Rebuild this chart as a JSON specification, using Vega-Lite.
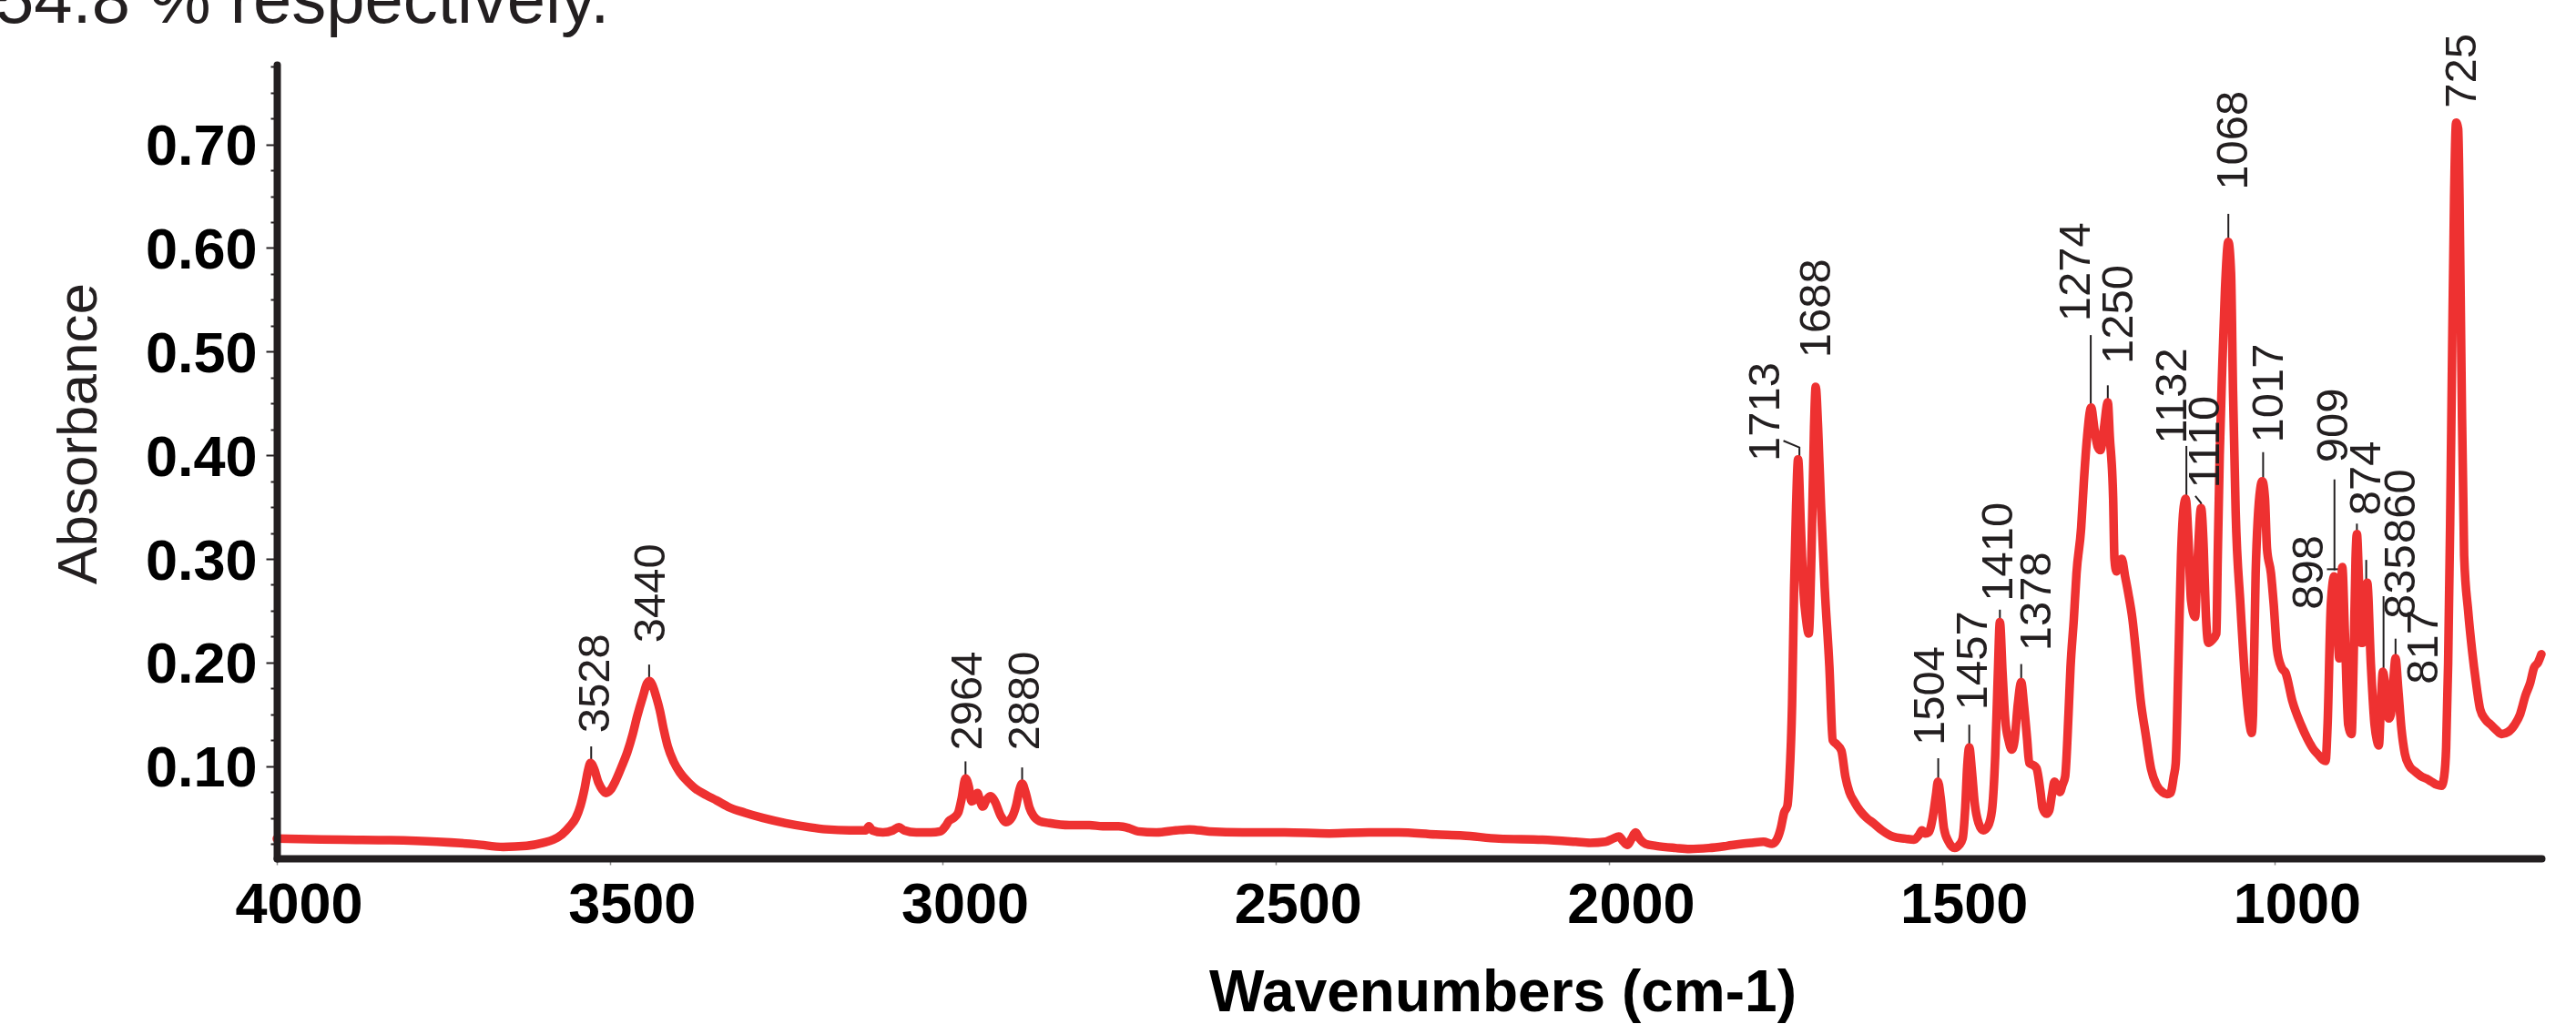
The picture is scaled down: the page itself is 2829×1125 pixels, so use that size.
{
  "$schema": "https://vega.github.io/schema/vega-lite/v6.json",
  "width": 2487,
  "height": 872,
  "autosize": {"type": "none"},
  "padding": {"left": 304, "top": 71, "right": 38, "bottom": 182},
  "background": "white",
  "title": {
    "text": "54.8 % respectively.",
    "anchor": "start",
    "frame": "group",
    "orient": "top",
    "dx": -309,
    "dy": 64,
    "offset": 0,
    "baseline": "alphabetic",
    "font": "Liberation Sans",
    "fontSize": 76,
    "fontWeight": "normal",
    "color": "#231f20"
  },
  "datasets": {
    "spectrum": [
      {"wn":4000,"A":0.030},{"wn":3950,"A":0.0295},{"wn":3900,"A":0.029},{"wn":3830,"A":0.0285},{"wn":3760,"A":0.027},{"wn":3700,"A":0.0245},{"wn":3660,"A":0.022},{"wn":3625,"A":0.023},{"wn":3600,"A":0.026},{"wn":3585,"A":0.029},{"wn":3572,"A":0.034},{"wn":3560,"A":0.042},{"wn":3551,"A":0.050},{"wn":3544,"A":0.062},{"wn":3538,"A":0.078},{"wn":3533,"A":0.095},{"wn":3529,"A":0.103},{"wn":3524,"A":0.098},{"wn":3517,"A":0.084},{"wn":3511,"A":0.077},{"wn":3506,"A":0.074},{"wn":3499,"A":0.077},{"wn":3492,"A":0.085},{"wn":3482,"A":0.100},{"wn":3474,"A":0.113},{"wn":3466,"A":0.130},{"wn":3459,"A":0.148},{"wn":3450,"A":0.168},{"wn":3444,"A":0.180},{"wn":3440,"A":0.182},{"wn":3436,"A":0.178},{"wn":3430,"A":0.166},{"wn":3425,"A":0.154},{"wn":3419,"A":0.135},{"wn":3413,"A":0.119},{"wn":3404,"A":0.104},{"wn":3395,"A":0.094},{"wn":3383,"A":0.085},{"wn":3371,"A":0.078},{"wn":3355,"A":0.072},{"wn":3340,"A":0.067},{"wn":3320,"A":0.060},{"wn":3297,"A":0.055},{"wn":3270,"A":0.050},{"wn":3236,"A":0.045},{"wn":3200,"A":0.041},{"wn":3175,"A":0.039},{"wn":3140,"A":0.038},{"wn":3116,"A":0.038},{"wn":3111,"A":0.042},{"wn":3106,"A":0.038},{"wn":3090,"A":0.036},{"wn":3075,"A":0.038},{"wn":3066,"A":0.041},{"wn":3058,"A":0.038},{"wn":3040,"A":0.036},{"wn":3018,"A":0.036},{"wn":3004,"A":0.037},{"wn":2996,"A":0.042},{"wn":2991,"A":0.047},{"wn":2984,"A":0.050},{"wn":2977,"A":0.055},{"wn":2972,"A":0.068},{"wn":2966,"A":0.088},{"wn":2961,"A":0.080},{"wn":2957,"A":0.066},{"wn":2952,"A":0.068},{"wn":2948,"A":0.074},{"wn":2944,"A":0.066},{"wn":2940,"A":0.061},{"wn":2934,"A":0.068},{"wn":2928,"A":0.071},{"wn":2922,"A":0.066},{"wn":2913,"A":0.052},{"wn":2905,"A":0.046},{"wn":2897,"A":0.050},{"wn":2890,"A":0.062},{"wn":2885,"A":0.077},{"wn":2881,"A":0.083},{"wn":2876,"A":0.075},{"wn":2870,"A":0.060},{"wn":2864,"A":0.052},{"wn":2855,"A":0.047},{"wn":2840,"A":0.045},{"wn":2810,"A":0.043},{"wn":2780,"A":0.043},{"wn":2760,"A":0.042},{"wn":2736,"A":0.042},{"wn":2720,"A":0.040},{"wn":2707,"A":0.037},{"wn":2680,"A":0.036},{"wn":2650,"A":0.038},{"wn":2630,"A":0.039},{"wn":2600,"A":0.037},{"wn":2550,"A":0.036},{"wn":2487,"A":0.036},{"wn":2420,"A":0.035},{"wn":2360,"A":0.036},{"wn":2316,"A":0.036},{"wn":2260,"A":0.034},{"wn":2219,"A":0.033},{"wn":2165,"A":0.030},{"wn":2100,"A":0.029},{"wn":2050,"A":0.027},{"wn":2028,"A":0.026},{"wn":2005,"A":0.027},{"wn":1994,"A":0.030},{"wn":1985,"A":0.032},{"wn":1978,"A":0.027},{"wn":1972,"A":0.024},{"wn":1966,"A":0.030},{"wn":1960,"A":0.036},{"wn":1954,"A":0.030},{"wn":1945,"A":0.025},{"wn":1929,"A":0.023},{"wn":1900,"A":0.021},{"wn":1879,"A":0.020},{"wn":1850,"A":0.021},{"wn":1823,"A":0.023},{"wn":1800,"A":0.025},{"wn":1785,"A":0.026},{"wn":1768,"A":0.027},{"wn":1755,"A":0.025},{"wn":1748,"A":0.029},{"wn":1742,"A":0.040},{"wn":1737,"A":0.055},{"wn":1732,"A":0.062},{"wn":1729,"A":0.088},{"wn":1725,"A":0.160},{"wn":1722,"A":0.272},{"wn":1719,"A":0.350},{"wn":1716,"A":0.396},{"wn":1712,"A":0.334},{"wn":1708,"A":0.270},{"wn":1704,"A":0.242},{"wn":1700,"A":0.228},{"wn":1696,"A":0.303},{"wn":1692,"A":0.427},{"wn":1689.5,"A":0.466},{"wn":1686,"A":0.427},{"wn":1681.5,"A":0.350},{"wn":1676,"A":0.272},{"wn":1669,"A":0.196},{"wn":1664,"A":0.125},{"wn":1658,"A":0.121},{"wn":1651,"A":0.115},{"wn":1645,"A":0.090},{"wn":1639,"A":0.075},{"wn":1631,"A":0.065},{"wn":1623,"A":0.057},{"wn":1613,"A":0.050},{"wn":1603,"A":0.045},{"wn":1590,"A":0.038},{"wn":1574,"A":0.032},{"wn":1555,"A":0.030},{"wn":1542,"A":0.029},{"wn":1534,"A":0.034},{"wn":1530,"A":0.038},{"wn":1525,"A":0.035},{"wn":1520,"A":0.036},{"wn":1514,"A":0.050},{"wn":1509,"A":0.072},{"wn":1506,"A":0.085},{"wn":1502,"A":0.070},{"wn":1497,"A":0.040},{"wn":1490,"A":0.027},{"wn":1481,"A":0.021},{"wn":1474,"A":0.024},{"wn":1469,"A":0.030},{"wn":1465,"A":0.060},{"wn":1462,"A":0.100},{"wn":1459,"A":0.118},{"wn":1455,"A":0.095},{"wn":1451,"A":0.065},{"wn":1445,"A":0.045},{"wn":1438,"A":0.038},{"wn":1431,"A":0.042},{"wn":1425,"A":0.057},{"wn":1420,"A":0.110},{"wn":1416,"A":0.190},{"wn":1413,"A":0.239},{"wn":1409,"A":0.190},{"wn":1405,"A":0.145},{"wn":1400,"A":0.125},{"wn":1395,"A":0.116},{"wn":1391,"A":0.125},{"wn":1386,"A":0.160},{"wn":1381,"A":0.181},{"wn":1377,"A":0.160},{"wn":1372,"A":0.125},{"wn":1369,"A":0.103},{"wn":1363,"A":0.101},{"wn":1358,"A":0.098},{"wn":1352,"A":0.075},{"wn":1349,"A":0.060},{"wn":1343,"A":0.054},{"wn":1339,"A":0.057},{"wn":1335,"A":0.072},{"wn":1331,"A":0.085},{"wn":1327,"A":0.080},{"wn":1323,"A":0.075},{"wn":1319,"A":0.082},{"wn":1315,"A":0.090},{"wn":1310,"A":0.150},{"wn":1307,"A":0.195},{"wn":1302,"A":0.242},{"wn":1298,"A":0.286},{"wn":1291,"A":0.330},{"wn":1287,"A":0.374},{"wn":1282,"A":0.418},{"wn":1276,"A":0.446},{"wn":1271,"A":0.425},{"wn":1266,"A":0.408},{"wn":1262,"A":0.405},{"wn":1257,"A":0.425},{"wn":1251,"A":0.451},{"wn":1248,"A":0.418},{"wn":1243,"A":0.359},{"wn":1241,"A":0.300},{"wn":1238,"A":0.288},{"wn":1234,"A":0.294},{"wn":1230,"A":0.300},{"wn":1225,"A":0.283},{"wn":1220,"A":0.266},{"wn":1214,"A":0.242},{"wn":1208,"A":0.205},{"wn":1202,"A":0.165},{"wn":1194,"A":0.130},{"wn":1186,"A":0.097},{"wn":1178,"A":0.082},{"wn":1169,"A":0.075},{"wn":1162,"A":0.073},{"wn":1157,"A":0.074},{"wn":1152,"A":0.090},{"wn":1149,"A":0.103},{"wn":1145,"A":0.200},{"wn":1141,"A":0.303},{"wn":1137,"A":0.350},{"wn":1134,"A":0.358},{"wn":1130,"A":0.320},{"wn":1126,"A":0.260},{"wn":1120,"A":0.244},{"wn":1116,"A":0.300},{"wn":1111,"A":0.349},{"wn":1107,"A":0.310},{"wn":1104,"A":0.250},{"wn":1100,"A":0.219},{"wn":1094,"A":0.222},{"wn":1088,"A":0.228},{"wn":1086,"A":0.300},{"wn":1083,"A":0.400},{"wn":1079,"A":0.488},{"wn":1075,"A":0.560},{"wn":1070,"A":0.606},{"wn":1066,"A":0.576},{"wn":1063,"A":0.462},{"wn":1059,"A":0.345},{"wn":1052,"A":0.257},{"wn":1043,"A":0.169},{"wn":1038,"A":0.140},{"wn":1035,"A":0.132},{"wn":1033,"A":0.150},{"wn":1029,"A":0.286},{"wn":1022,"A":0.368},{"wn":1019,"A":0.375},{"wn":1015,"A":0.358},{"wn":1012,"A":0.310},{"wn":1006,"A":0.286},{"wn":1002,"A":0.257},{"wn":997,"A":0.213},{"wn":990,"A":0.195},{"wn":984,"A":0.190},{"wn":974,"A":0.163},{"wn":961,"A":0.140},{"wn":951,"A":0.126},{"wn":943,"A":0.117},{"wn":935,"A":0.111},{"wn":928,"A":0.106},{"wn":924,"A":0.105},{"wn":921,"A":0.140},{"wn":916,"A":0.257},{"wn":911,"A":0.283},{"wn":906,"A":0.230},{"wn":903.5,"A":0.204},{"wn":901,"A":0.260},{"wn":899,"A":0.292},{"wn":895,"A":0.228},{"wn":890,"A":0.140},{"wn":885,"A":0.131},{"wn":882,"A":0.200},{"wn":879,"A":0.300},{"wn":877,"A":0.324},{"wn":874,"A":0.280},{"wn":871,"A":0.219},{"wn":868,"A":0.219},{"wn":864,"A":0.260},{"wn":861.5,"A":0.277},{"wn":856,"A":0.198},{"wn":850.5,"A":0.140},{"wn":847,"A":0.125},{"wn":844,"A":0.120},{"wn":841,"A":0.160},{"wn":838,"A":0.191},{"wn":834,"A":0.175},{"wn":829,"A":0.146},{"wn":826,"A":0.150},{"wn":822,"A":0.185},{"wn":819,"A":0.204},{"wn":815,"A":0.175},{"wn":810,"A":0.135},{"wn":805,"A":0.112},{"wn":798,"A":0.100},{"wn":790,"A":0.095},{"wn":780,"A":0.090},{"wn":773,"A":0.088},{"wn":765,"A":0.085},{"wn":757,"A":0.082},{"wn":750,"A":0.081},{"wn":746,"A":0.090},{"wn":743,"A":0.118},{"wn":740,"A":0.200},{"wn":737,"A":0.334},{"wn":734,"A":0.500},{"wn":731,"A":0.650},{"wn":728,"A":0.721},{"wn":725,"A":0.715},{"wn":723,"A":0.650},{"wn":720,"A":0.480},{"wn":716,"A":0.303},{"wn":710,"A":0.250},{"wn":704,"A":0.211},{"wn":698,"A":0.180},{"wn":692,"A":0.155},{"wn":684,"A":0.145},{"wn":676,"A":0.140},{"wn":668,"A":0.135},{"wn":660,"A":0.131},{"wn":650,"A":0.133},{"wn":640,"A":0.140},{"wn":632,"A":0.150},{"wn":624,"A":0.168},{"wn":617,"A":0.180},{"wn":611,"A":0.195},{"wn":605,"A":0.200},{"wn":600,"A":0.208}
    ],
    "labels": [
      {"label":"3528","wn":3522,"A":0.132},
      {"label":"3440","wn":3438,"A":0.219},
      {"label":"2964","wn":2962,"A":0.115},
      {"label":"2880","wn":2876,"A":0.115},
      {"label":"1713","wn":1765,"A":0.394},
      {"label":"1688","wn":1688,"A":0.494},
      {"label":"1504","wn":1518,"A":0.120},
      {"label":"1457","wn":1453,"A":0.154},
      {"label":"1410","wn":1415,"A":0.259},
      {"label":"1378","wn":1357,"A":0.211},
      {"label":"1274","wn":1299,"A":0.529},
      {"label":"1250","wn":1234,"A":0.488},
      {"label":"1132","wn":1153,"A":0.411},
      {"label":"1110","wn":1105,"A":0.368},
      {"label":"1068","wn":1062,"A":0.656},
      {"label":"1017","wn":1009,"A":0.412},
      {"label":"909","wn":912,"A":0.393},
      {"label":"898","wn":949,"A":0.251},
      {"label":"874","wn":862,"A":0.342},
      {"label":"860","wn":811,"A":0.315},
      {"label":"835","wn":811,"A":0.242},
      {"label":"817","wn":777,"A":0.179},
      {"label":"725","wn":719,"A":0.735}
    ],
    "leaders": [
      {"label":"3528","seq":0,"wn":3528,"A":0.105},{"label":"3528","seq":1,"wn":3528,"A":0.119},
      {"label":"3440","seq":0,"wn":3441,"A":0.185},{"label":"3440","seq":1,"wn":3441,"A":0.198},
      {"label":"2964","seq":0,"wn":2966,"A":0.090},{"label":"2964","seq":1,"wn":2966,"A":0.1046},
      {"label":"2880","seq":0,"wn":2881,"A":0.0855},{"label":"2880","seq":1,"wn":2881,"A":0.0987},
      {"label":"1713","seq":0,"wn":1714,"A":0.399},{"label":"1713","seq":1,"wn":1714,"A":0.4075},{"label":"1713","seq":2,"wn":1738,"A":0.414},
      {"label":"1504","seq":0,"wn":1505.6,"A":0.0876},{"label":"1504","seq":1,"wn":1505.6,"A":0.1076},
      {"label":"1457","seq":0,"wn":1459,"A":0.1215},{"label":"1457","seq":1,"wn":1459,"A":0.140},
      {"label":"1410","seq":0,"wn":1413,"A":0.240},{"label":"1410","seq":1,"wn":1413,"A":0.251},
      {"label":"1378","seq":0,"wn":1381,"A":0.1833},{"label":"1378","seq":1,"wn":1381,"A":0.1985},
      {"label":"1274","seq":0,"wn":1276.6,"A":0.447},{"label":"1274","seq":1,"wn":1276.6,"A":0.516},
      {"label":"1250","seq":0,"wn":1251,"A":0.4529},{"label":"1250","seq":1,"wn":1251,"A":0.4675},
      {"label":"1132","seq":0,"wn":1133,"A":0.359},{"label":"1132","seq":1,"wn":1133,"A":0.409},
      {"label":"1110","seq":0,"wn":1111,"A":0.350},{"label":"1110","seq":1,"wn":1111,"A":0.354},{"label":"1110","seq":2,"wn":1119.6,"A":0.3607},
      {"label":"1068","seq":0,"wn":1070,"A":0.608},{"label":"1068","seq":1,"wn":1070,"A":0.633},
      {"label":"1017","seq":0,"wn":1017.8,"A":0.378},{"label":"1017","seq":1,"wn":1017.8,"A":0.403},
      {"label":"909","seq":0,"wn":910.7,"A":0.289},{"label":"909","seq":1,"wn":910.7,"A":0.3767},
      {"label":"898","seq":0,"wn":922,"A":0.290},{"label":"898","seq":1,"wn":903,"A":0.290},
      {"label":"874","seq":0,"wn":877,"A":0.324},{"label":"874","seq":1,"wn":877,"A":0.334},
      {"label":"860","seq":0,"wn":863,"A":0.279},{"label":"860","seq":1,"wn":863,"A":0.299},
      {"label":"835","seq":0,"wn":837,"A":0.192},{"label":"835","seq":1,"wn":837,"A":0.264},
      {"label":"817","seq":0,"wn":819,"A":0.2055},{"label":"817","seq":1,"wn":819,"A":0.223},
      {"label":"725","seq":0,"wn":727,"A":0.7206},{"label":"725","seq":1,"wn":727,"A":0.7236}
    ]
  },
  "resolve": {"axis": {"y": "independent"}},
  "layer": [
    {
      "data": {"name": "leaders"},
      "mark": {"type": "line", "color": "#231f20", "strokeWidth": 2, "interpolate": "linear"},
      "encoding": {
        "x": {
          "field": "wn", "type": "quantitative",
          "scale": {"domain": [600, 4000], "reverse": true, "nice": false, "zero": false},
          "axis": {
            "title": "Wavenumbers (cm-1)",
            "values": [4000, 3500, 3000, 2500, 2000, 1500, 1000],
            "format": "d",
            "grid": false,
            "zindex": 1,
            "domainColor": "#231f20", "domainWidth": 8, "domainCap": "round",
            "tickColor": "#8a8a8a", "tickSize": 7, "tickWidth": 1.5,
            "labelFont": "Liberation Sans", "labelFontWeight": "bold", "labelFontSize": 63, "labelColor": "#000000",
            "labelBaseline": "alphabetic", "labelPadding": 63, "labelOffset": 24,
            "labelOverlap": false, "labelFlush": false, "labelBound": false,
            "titleFont": "Liberation Sans", "titleFontWeight": "bold", "titleFontSize": 64, "titleColor": "#000000",
            "titleX": 1346, "titleY": 167, "titleBaseline": "alphabetic", "titleAlign": "center"
          }
        },
        "y": {
          "field": "A", "type": "quantitative",
          "scale": {"domain": [0.011, 0.777], "nice": false, "zero": false},
          "axis": {
            "orient": "left",
            "title": "Absorbance",
            "values": [0.1, 0.2, 0.3, 0.4, 0.5, 0.6, 0.7],
            "format": ".2f",
            "grid": false,
            "zindex": 2,
            "domainColor": "#231f20", "domainWidth": 8, "domainCap": "round",
            "tickColor": "#231f20", "tickWidth": 2, "tickSize": 12,
            "labelFont": "Liberation Sans", "labelFontWeight": "bold", "labelFontSize": 63, "labelColor": "#000000",
            "labelPadding": 10, "labelOffset": 3,
            "labelOverlap": false, "labelFlush": false, "labelBound": false,
            "titleFont": "Liberation Sans", "titleFontWeight": "normal", "titleFontSize": 62, "titleColor": "#231f20",
            "titleX": -199, "titleY": 405, "titleAngle": 270, "titleAlign": "center", "titleBaseline": "alphabetic"
          }
        },
        "detail": {"field": "label"},
        "order": {"field": "seq"}
      }
    },
    {
      "data": {"name": "spectrum"},
      "mark": {"type": "line", "color": "#ee3131", "strokeWidth": 9.5, "interpolate": "monotone", "strokeCap": "round", "strokeJoin": "round"},
      "encoding": {
        "x": {"field": "wn", "type": "quantitative"},
        "y": {
          "field": "A", "type": "quantitative",
          "axis": {
            "orient": "left",
            "title": null,
            "values": [0.025,0.05,0.075,0.125,0.15,0.175,0.225,0.25,0.275,0.325,0.35,0.375,0.425,0.45,0.475,0.525,0.55,0.575,0.625,0.65,0.675,0.725,0.75,0.775],
            "labels": false,
            "domain": false,
            "grid": false,
            "zindex": 1,
            "tickColor": "#231f20", "tickWidth": 2, "tickSize": 7
          }
        },
        "order": {"field": "wn", "sort": "descending"}
      }
    },
    {
      "data": {"name": "labels"},
      "mark": {"type": "text", "angle": 270, "align": "left", "baseline": "middle", "font": "Liberation Sans", "fontSize": 49, "color": "#231f20"},
      "encoding": {
        "x": {"field": "wn", "type": "quantitative"},
        "y": {"field": "A", "type": "quantitative", "axis": null},
        "text": {"field": "label"}
      }
    }
  ],
  "config": {
    "view": {"stroke": null},
    "font": "Liberation Sans"
  }
}
